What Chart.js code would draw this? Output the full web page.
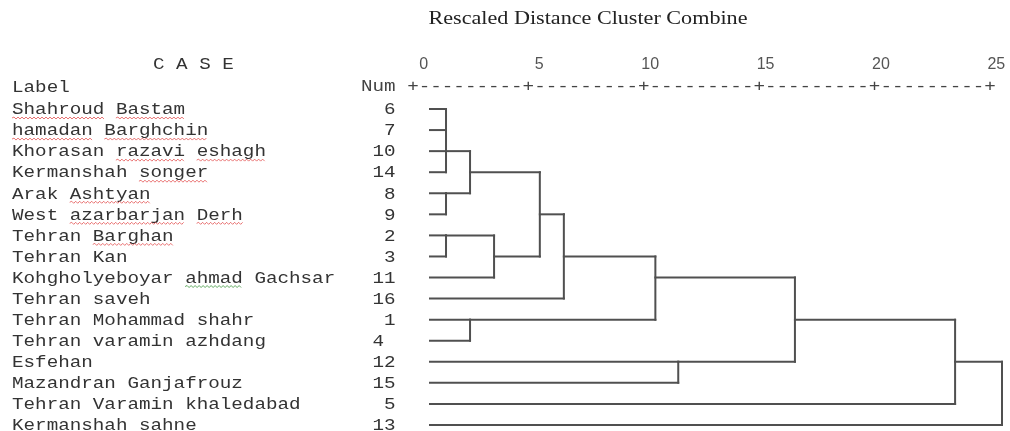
<!DOCTYPE html>
<html>
<head>
<meta charset="utf-8">
<script src="https://cdn.jsdelivr.net/npm/chart.js@4"></script>
<style>
  body { margin: 0; background: #fff; }
  #wrap { width: 1010px; height: 431px; position: relative; }
</style>
</head>
<body>
<div id="wrap"><canvas id="dendro"></canvas></div>
<script>
// cases in dendrogram order (top to bottom)
const caseLabels = [
  'Shahroud Bastam', 'hamadan Barghchin', 'Khorasan razavi eshagh', 'Kermanshah songer',
  'Arak Ashtyan', 'West azarbarjan Derh', 'Tehran Barghan', 'Tehran Kan',
  'Kohgholyeboyar ahmad Gachsar', 'Tehran saveh', 'Tehran Mohammad shahr', 'Tehran varamin azhdang',
  'Esfehan', 'Mazandran Ganjafrouz', 'Tehran Varamin khaledabad', 'Kermanshah sahne'
];
const caseNums = ['6', '7', '10', '14', '8', '9', '2', '3', '11', '16', '1', '4 ', '12', '15', '5', '13'];

// merges: Lk = leaf on row k, Mk = merge k
const mergeKids = [
  ['L0', 'L1', 'L2', 'L3'], ['L4', 'L5'], ['M0', 'M1'], ['L6', 'L7'], ['M3', 'L8'],
  ['M2', 'M4'], ['M5', 'L9'], ['L10', 'L11'], ['M6', 'M7'], ['L12', 'L13'],
  ['M8', 'M9'], ['M10', 'L14'], ['M11', 'L15']
];
const mergeDist = [0.7, 0.7, 1.75, 0.7, 2.8, 4.8, 5.85, 1.75, 9.85, 10.85, 15.95, 22.95, 25];
const mergeRow = [2, 4, 3, 6, 7, 5, 7, 10, 8, 12, 10, 12, null];

const tickLabels = ['0', '5', '10', '15', '20', '25'];

// spell-check squiggles seen in the source (word, colour)
const squiggles = [
  [['Shahroud', 'r'], ['Bastam', 'r']], [['hamadan', 'r'], ['Barghchin', 'r']],
  [['razavi', 'r'], ['eshagh', 'r']], [['songer', 'r']], [['Ashtyan', 'r']],
  [['azarbarjan', 'r'], ['Derh', 'r']], [['Barghan', 'r']], [], [['ahmad', 'g']]
];

function nodePos(id) {
  const k = parseInt(id.slice(1));
  if (id[0] === 'L') return { x: 0, y: k };
  return { x: mergeDist[k], y: mergeRow[k] };
}

const segs = [];
mergeKids.forEach((kids, k) => {
  const d = mergeDist[k];
  const rows = kids.map(id => nodePos(id).y);
  segs.push([{ x: d, y: Math.min(...rows) }, { x: d, y: Math.max(...rows) }]);
  kids.forEach(id => {
    const p = nodePos(id);
    segs.push([{ x: p.x, y: p.y }, { x: d, y: p.y }]);
  });
});

const lineColor = '#505050';
const datasets = segs.map(s => ({
  data: s,
  showLine: true,
  borderColor: lineColor,
  borderWidth: 2,
  borderCapStyle: 'square',
  pointRadius: 0,
  clip: false
}));

const CW = 11.54;            // width of one character cell
const MONO_PX = 16;
const SX = CW / (MONO_PX * 0.6);

function mono(ctx, str, x, y, align) {
  ctx.save();
  ctx.translate(x, y);
  ctx.scale(SX, 1);
  ctx.textAlign = align || 'left';
  ctx.fillText(str, 0, 0);
  ctx.restore();
}

function squiggle(ctx, x0, x1, y, color) {
  ctx.save();
  ctx.strokeStyle = color;
  ctx.lineWidth = 1;
  ctx.beginPath();
  let up = true;
  ctx.moveTo(x0, y);
  for (let x = x0 + 2; x <= x1; x += 2) {
    ctx.lineTo(x, up ? y - 1 : y + 1);
    up = !up;
  }
  ctx.stroke();
  ctx.restore();
}

const textPlugin = {
  id: 'spssText',
  afterDraw(chart) {
    const ctx = chart.ctx;
    const ys = chart.scales.y;
    ctx.save();
    ctx.textBaseline = 'middle';

    // title, stretched like the source
    const title = 'Rescaled Distance Cluster Combine';
    ctx.fillStyle = '#222';
    ctx.font = '19px "Liberation Serif", serif';
    const tw = ctx.measureText(title).width;
    ctx.save();
    ctx.translate(588, 19);
    ctx.scale(319 / tw, 1);
    ctx.textAlign = 'center';
    ctx.fillText(title, 0, 0);
    ctx.restore();

    ctx.font = MONO_PX + 'px "Liberation Mono", monospace';
    ctx.fillStyle = '#333';
    mono(ctx, 'C A S E', 153, 65);
    mono(ctx, 'Label', 12, 88);

    const numStart = 361;
    let ruler = 'Num +';
    for (let i = 1; i < tickLabels.length; i++) ruler += '---------+';
    ctx.fillStyle = '#444';
    mono(ctx, ruler, numStart, 87);

    // scale numbers above the ruler
    const rulerStart = numStart + 4 * CW;
    ctx.font = '16px "Liberation Sans", sans-serif';
    ctx.fillStyle = '#555';
    ctx.textAlign = 'right';
    tickLabels.forEach((t, i) => {
      ctx.fillText(t, rulerStart + (i * 10 + 2) * CW - 2, 65);
    });

    // case labels and numbers
    ctx.font = MONO_PX + 'px "Liberation Mono", monospace';
    ctx.fillStyle = '#333';
    caseLabels.forEach((lab, i) => {
      const y = ys.getPixelForValue(i) + 1;
      mono(ctx, lab, 12, y);
      mono(ctx, caseNums[i], numStart + 3 * CW, y, 'right');
      (squiggles[i] || []).forEach(([w, c]) => {
        const idx = lab.indexOf(w);
        const x0 = 12 + idx * CW, x1 = x0 + w.length * CW;
        squiggle(ctx, x0, x1, y + 8, c === 'g' ? 'rgba(60,150,60,0.8)' : 'rgba(225,70,70,0.75)');
      });
    });
    ctx.restore();
  }
};

new Chart(document.getElementById('dendro'), {
  type: 'scatter',
  data: { datasets: datasets },
  options: {
    responsive: true,
    maintainAspectRatio: false,
    animation: false,
    layout: { padding: { left: 430, right: 8, top: 109, bottom: 6 } },
    plugins: { legend: { display: false }, tooltip: { enabled: false } },
    scales: {
      x: { type: 'linear', min: 0, max: 25, display: false },
      y: { type: 'linear', min: 0, max: 15, reverse: true, display: false }
    }
  },
  plugins: [textPlugin]
});
</script>
</body>
</html>
